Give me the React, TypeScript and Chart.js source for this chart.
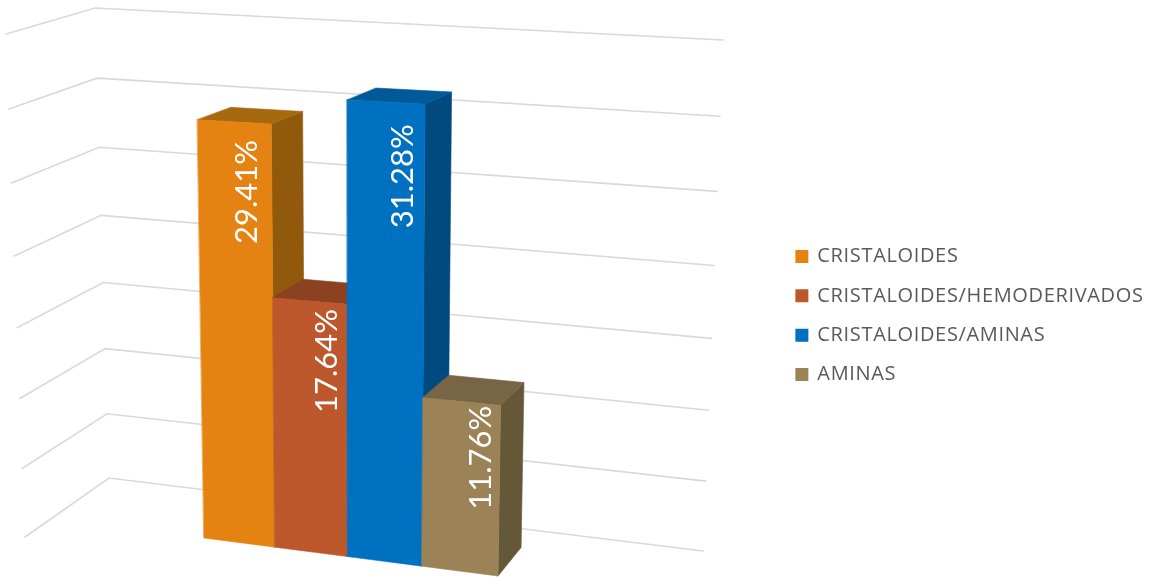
import React, { useEffect, useRef } from "react";
import { Chart, registerables } from "chart.js";

Chart.register(...registerables);

const categories = ["CRISTALOIDES", "CRISTALOIDES/HEMODERIVADOS", "CRISTALOIDES/AMINAS", "AMINAS"];
const values = [29.41, 17.64, 31.28, 11.76];
const axisMax = 35;
const axisStep = 5;

const frontColors = ["#E48312", "#BD582C", "#0070C0", "#9B8357"];
const topColors = ["#A7690D", "#8C4220", "#005A9A", "#776545"];
const sideColors = ["#90590C", "#7F3C1D", "#004A80", "#655839"];
const labelAlong = [0.67, 0.73, 0.72, 0.765];

type Pt = [number, number];

// Perspective of the bar block: u along the row, d into the depth, h up the value axis.
const barCam = {
  origin: [204, 538] as Pt,
  uEnd: [498, 576] as Pt,
  dEnd: [236, 512] as Pt,
  hEnd: [196, 36] as Pt,
  a: -0.047,
  b: 0.035,
  c: -0.05,
};

function project(u: number, d: number, h: number): Pt {
  const { origin: O, uEnd, dEnd, hEnd, a, b, c } = barCam;
  const w = 1 + a * u + b * d + c * h;
  const f = (i: 0 | 1) =>
    (O[i] +
      (uEnd[i] * (1 + a) - O[i]) * u +
      (dEnd[i] * (1 + b) - O[i]) * d +
      (hEnd[i] * (1 + c) - O[i]) * h) /
    w;
  return [f(0), f(1)];
}

// Wall corners: [floor, top of the value axis]
const wallFrontLeft: [Pt, Pt] = [[25, 537], [6, 34]];
const wallCorner: [Pt, Pt] = [[109, 478], [95, 8]];
const wallBackRight: [Pt, Pt] = [[703, 551], [723, 40]];
const wallPersp = -0.05;

function wallPoint(edge: [Pt, Pt], h: number): Pt {
  const t = ((1 + wallPersp) * h) / (1 + wallPersp * h);
  return [edge[0][0] + (edge[1][0] - edge[0][0]) * t, edge[0][1] + (edge[1][1] - edge[0][1]) * t];
}

function poly(ctx: CanvasRenderingContext2D, pts: Pt[], color: string) {
  ctx.beginPath();
  pts.forEach((p, i) => (i ? ctx.lineTo(p[0], p[1]) : ctx.moveTo(p[0], p[1])));
  ctx.closePath();
  ctx.fillStyle = color;
  ctx.fill();
  ctx.strokeStyle = color;
  ctx.lineWidth = 0.6;
  ctx.stroke();
}

const perspectiveBars = {
  id: "perspectiveBars",
  beforeLayout(chart: any) {
    chart.ctx.letterSpacing = "0.65px";
  },
  beforeDatasetsDraw(chart: any) {
    const ctx: any = chart.ctx;
    const { x: xs, y: ys } = chart.scales;
    const hOf = (v: number) => (ys.bottom - ys.getPixelForValue(v)) / (ys.bottom - ys.top);

    ctx.save();
    ctx.letterSpacing = "0px";
    ctx.lineCap = "round";
    ctx.strokeStyle = "#D9D9D9";
    ctx.lineWidth = 1.6;
    ys.ticks.forEach((t: any) => {
      const h = hOf(t.value);
      const a = wallPoint(wallFrontLeft, h);
      const b = wallPoint(wallCorner, h);
      const c = wallPoint(wallBackRight, h);
      ctx.beginPath();
      ctx.moveTo(a[0], a[1]);
      ctx.lineTo(b[0], b[1]);
      ctx.lineTo(c[0], c[1]);
      ctx.stroke();
    });

    chart.data.datasets.forEach((ds: any, i: number) => {
      const el = chart.getDatasetMeta(i).data[0];
      const u0 = (el.x - el.width / 2 - xs.left) / (xs.right - xs.left);
      const u1 = (el.x + el.width / 2 - xs.left) / (xs.right - xs.left);
      const h = hOf(ds.data[0]);
      poly(ctx, [project(u1, 0, 0), project(u1, 1, 0), project(u1, 1, h), project(u1, 0, h)], sideColors[i]);
      poly(ctx, [project(u0, 0, h), project(u1, 0, h), project(u1, 1, h), project(u0, 1, h)], topColors[i]);
      poly(ctx, [project(u0, 0, 0), project(u1, 0, 0), project(u1, 0, h), project(u0, 0, h)], frontColors[i]);
    });

    chart.data.datasets.forEach((ds: any, i: number) => {
      const el = chart.getDatasetMeta(i).data[0];
      const u0 = (el.x - el.width / 2 - xs.left) / (xs.right - xs.left);
      const u1 = (el.x + el.width / 2 - xs.left) / (xs.right - xs.left);
      const v = ds.data[0];
      const lh = hOf(v - (3.05 + 0.055 * v));
      const p = project(u0 + (u1 - u0) * labelAlong[i], 0, lh);
      ctx.save();
      ctx.translate(p[0], p[1]);
      ctx.rotate(-Math.PI / 2);
      ctx.fillStyle = "#FFFFFF";
      ctx.font = "31px Lato";
      ctx.textAlign = "center";
      ctx.textBaseline = "middle";
      ctx.fillText(v.toFixed(2) + "%", 0, 0);
      ctx.restore();
    });
    ctx.restore();
    return false;
  },
};

export default function App() {
  const ref = useRef<HTMLCanvasElement>(null);
  useEffect(() => {
    const chart = new Chart(ref.current!, {
      type: "bar",
      data: {
        labels: [""],
        datasets: categories.map((label, i) => ({
          label,
          data: [values[i]],
          backgroundColor: frontColors[i],
          borderColor: frontColors[i],
          borderWidth: 2,
        })),
      },
      options: {
        responsive: false,
        animation: false,
        devicePixelRatio: 1,
        layout: { padding: { top: 54, right: 1.5 } },
        datasets: { bar: { barPercentage: 1, categoryPercentage: 1 } },
        scales: {
          x: { display: false },
          y: { display: false, min: 0, max: axisMax, ticks: { stepSize: axisStep } },
        },
        plugins: {
          title: { display: false },
          tooltip: { enabled: false },
          legend: {
            position: "right",
            onClick: () => {},
            labels: {
              boxWidth: 11,
              boxHeight: 11,
              padding: 19.33,
              color: "#595959",
              font: { family: "Open Sans", size: 20 },
            },
          },
        },
      },
      plugins: [perspectiveBars],
    } as any);
    return () => chart.destroy();
  }, []);
  return (
    <div style={{ position: "absolute", left: 0, top: 0, width: 1155, height: 577, background: "#fff" }}>
      <canvas ref={ref} width={1155} height={577} style={{ display: "block" }} />
    </div>
  );
}
